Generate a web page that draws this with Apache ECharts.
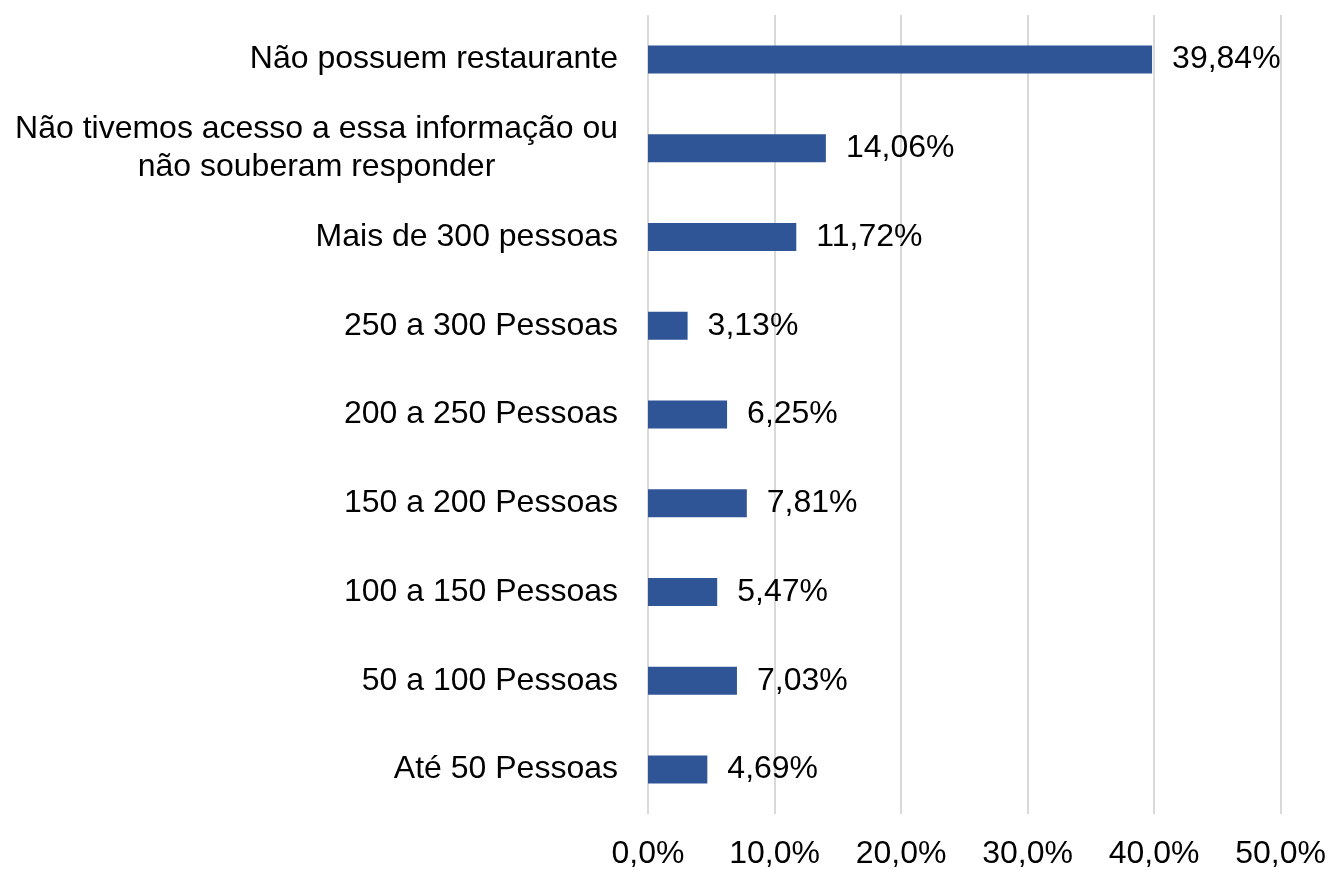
<!DOCTYPE html>
<html>
<head>
<meta charset="utf-8">
<script src="https://cdn.jsdelivr.net/npm/echarts@6/dist/echarts.min.js"></script>
<style>
  html, body { margin: 0; padding: 0; background: #fff; }
  #chart { width: 1329px; height: 870px; }
</style>
</head>
<body>
<div id="chart"></div>
<script>
  // categories from bottom to top
  const categories = [
    'Até 50 Pessoas',
    '50 a 100 Pessoas',
    '100 a 150 Pessoas',
    '150 a 200 Pessoas',
    '200 a 250 Pessoas',
    '250 a 300 Pessoas',
    'Mais de 300 pessoas',
    'Não tivemos acesso a essa informação ou\nnão souberam responder',
    'Não possuem restaurante'
  ]
  const values = [4.69, 7.03, 5.47, 7.81, 6.25, 3.13, 11.72, 14.06, 39.84]
  const xTicks = [0, 10, 20, 30, 40, 50]

  const fmt = function (v, d) { return v.toFixed(d).replace('.', ',') }
  const font = 'Liberation Sans, Arial, sans-serif'

  let chart = echarts.init(document.getElementById('chart'))
  chart.setOption({
    animation: false,
    textStyle: { fontFamily: font },
    grid: { left: 648, right: 48, top: 15, bottom: 55 },
    xAxis: {
      type: 'value',
      min: xTicks[0],
      max: xTicks[xTicks.length - 1],
      interval: 10,
      axisLine: { show: false },
      axisTick: { show: false },
      splitLine: { show: true, lineStyle: { color: '#d9d9d9', width: 2 } },
      axisLabel: {
        color: '#000',
        fontSize: 32,
        margin: 24,
        formatter: function (v) { return fmt(v, 1) + '%' }
      }
    },
    yAxis: {
      type: 'category',
      data: categories,
      axisLine: { show: false },
      axisTick: { show: false },
      axisLabel: {
        color: '#000',
        fontSize: 32,
        margin: 30,
        lineHeight: 38,
        formatter: function (v) {
          return v.split('\n').map(function (s) { return '{c|' + s + '}' }).join('\n')
        },
        rich: {
          c: { fontSize: 32, color: '#000', align: 'center', lineHeight: 38, fontFamily: font }
        }
      }
    },
    series: [{
      type: 'bar',
      data: values,
      barWidth: 28,
      itemStyle: { color: '#2F5597' },
      label: {
        show: true,
        position: 'right',
        distance: 20,
        color: '#000',
        fontSize: 32,
        formatter: function (p) { return fmt(p.value, 2) + '%' }
      }
    }]
  })
</script>
</body>
</html>
